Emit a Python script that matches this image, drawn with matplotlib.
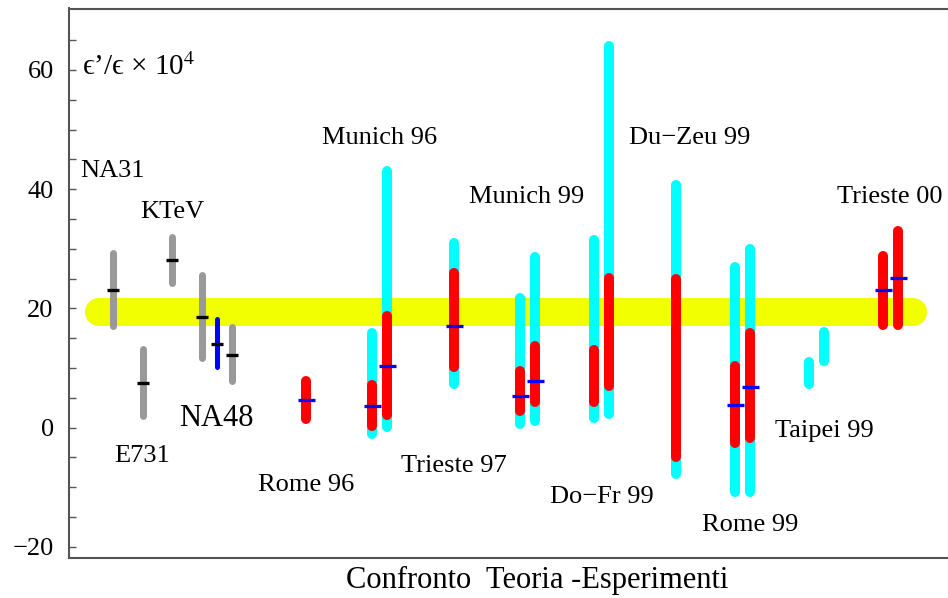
import numpy as np
import matplotlib.pyplot as plt

plt.rcParams['font.family'] = ['Liberation Serif', 'DejaVu Serif']
plt.rcParams['mathtext.fontset'] = 'stix'

# experiments (gray / blue bars, black central marks)
exp_x = [44, 74, 103, 133, 148, 163]
exp_lo = [16.4, 1.3, 23.7, 11.1, 9.7, 7.2]
exp_hi = [29.9, 13.7, 32.5, 26.2, 18.6, 17.5]
exp_c = [23.1, 7.4, 28.1, 18.6, 14.1, 12.2]
exp_col = ['#999999', '#999999', '#999999', '#999999', '#0000ff', '#999999']

# world average band
band_x = [16, 858]
band_lo, band_hi = 17.0, 21.7

# theory predictions
th_x = [237, 303, 318, 385, 451, 466, 525, 540, 607, 666, 681, 740, 755, 814, 829]
cyan_lo = [np.nan, -1.9, -0.7, 6.4, -0.3, 0.3, 0.8, 1.4, -8.7, -11.7, -11.7, 6.4, 10.3, np.nan, np.nan]
cyan_hi = [np.nan, 16.7, 43.8, 31.8, 22.6, 29.5, 32.3, 64.9, 41.6, 27.8, 30.8, 11.8, 16.8, np.nan, np.nan]
red_lo = [0.6, -0.5, 1.3, 9.3, 2.0, 3.5, 3.5, 6.2, -5.7, -3.4, -2.6, np.nan, np.nan, 16.3, 16.3]
red_hi = [8.7, 7.9, 19.5, 26.7, 10.3, 14.5, 13.8, 25.9, 25.7, 11.2, 16.7, np.nan, np.nan, 29.7, 33.8]
th_c = [4.6, 3.6, 10.4, 17.1, 5.3, 7.8, np.nan, np.nan, np.nan, 3.7, 6.8, np.nan, np.nan, 23.0, 25.1]

labels = ['NA31', 'KTeV', 'E731', 'NA48', 'Rome 96', 'Munich 96', 'Trieste 97',
          'Munich 99', 'Do\u2212Fr 99', 'Du\u2212Zeu 99', 'Rome 99', 'Taipei 99', 'Trieste 00']
lab_x = [43, 103, 73, 147, 237, 311, 385, 458, 533, 621, 681, 755, 821]
lab_y = [43.1, 36.2, -4.7, 1.5, -9.7, 48.5, -6.5, 38.6, -11.7, 48.5, -16.4, -0.5, 38.6]
lab_size = [19, 19, 19, 22, 19, 19, 19, 19, 19, 19, 19, 19, 19]

fig = plt.figure(figsize=(9.48, 5.98), dpi=100)
ax = fig.add_axes([69 / 948, 1 - 557.5 / 598, 879 / 948, 549 / 598])
ymin, ymax = -21.8, 70.3
ax.set_xlim(0, 879)
ax.set_ylim(ymin, ymax)

# data units per pixel, to keep the round caps inside the read ranges
upp = (ymax - ymin) / 549


def bar(x, lo, hi, color, lw_px, z):
    if np.isnan(lo):
        return
    s = lw_px / 2 * upp
    ax.plot([x, x], [lo + s, hi - s], color=color, lw=lw_px * 0.72,
            solid_capstyle='round', zorder=z)


def mark(x, y, color, w_px, lw_px):
    if np.isnan(y):
        return
    ax.plot([x - w_px / 2, x + w_px / 2], [y, y], color=color, lw=lw_px * 0.72,
            solid_capstyle='butt', zorder=6)


# band
bs = 28 / 2
ax.plot([band_x[0] + bs, band_x[1] - bs], [(band_lo + band_hi) / 2] * 2,
        color='#f2ff00', lw=(band_hi - band_lo) / upp * 0.72,
        solid_capstyle='round', zorder=1)

for x, lo, hi, c, col in zip(exp_x, exp_lo, exp_hi, exp_c, exp_col):
    w = 5 if col == '#0000ff' else 7
    bar(x, lo, hi, col, w, 3)
    mark(x, c, 'black', 12, 3.3)

for i, x in enumerate(th_x):
    bar(x, cyan_lo[i], cyan_hi[i], '#00ffff', 10, 2)
    bar(x, red_lo[i], red_hi[i], '#ff0000', 10, 4)
    mark(x, th_c[i], '#0000ff', 17, 3.3)

for t, x, y, s in zip(labels, lab_x, lab_y, lab_size):
    ax.text(x, y, t, ha='center', va='center', fontsize=s)

ax.text(13, 60.4, "\u03f5\u2019/\u03f5 \u00d7 10$^{4}$", ha='left', va='center', fontsize=21)

ax.set_xticks([])
ax.set_yticks([-20, 0, 20, 40, 60])
ax.set_yticks(np.arange(-20, 70, 5), minor=True)
ax.tick_params(axis='y', which='both', direction='in', length=5, width=1,
               color='#555555', labelsize=19, pad=11)
ax.set_yticklabels(['\u221220', '0', '20', '40', '60'])
for sp in ['left', 'top', 'bottom']:
    ax.spines[sp].set_color('#555555')
    ax.spines[sp].set_linewidth(1.5)
ax.spines['right'].set_visible(False)

fig.text(537 / 948, 1 - 580 / 598, 'Confronto  Teoria -Esperimenti', ha='center', va='center', fontsize=22)

fig.savefig('out.png', dpi=100)
